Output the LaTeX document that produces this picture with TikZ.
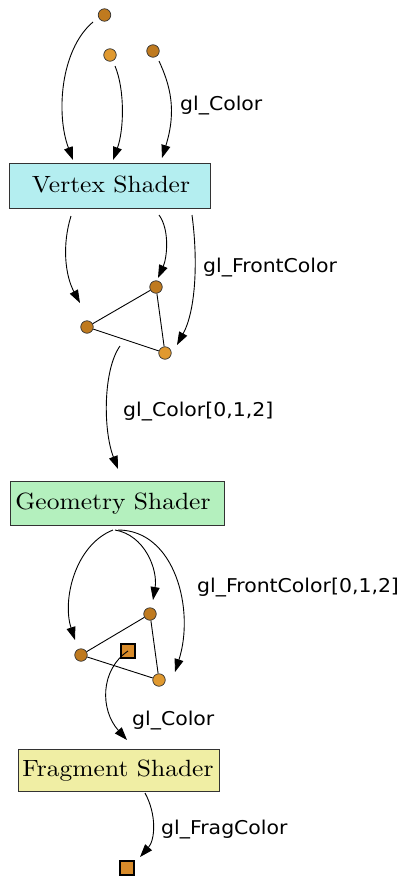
\documentclass[tikz,border=0pt]{standalone}
\usepackage{fontspec}
\usepackage{graphicx}
\newfontfamily\labelfont{DejaVu Sans}
\usetikzlibrary{arrows.meta}
\definecolor{vdark}{HTML}{BF7A1F}
\definecolor{vlight}{HTML}{E0992F}
\definecolor{fragsq}{HTML}{D88B2A}
\definecolor{vsfill}{HTML}{B4EEF0}
\definecolor{gsfill}{HTML}{B4F0BE}
\definecolor{fsfill}{HTML}{F0EEA4}
\definecolor{boxline}{HTML}{333333}
\newcommand{\shadertext}[1]{\scalebox{2.55}[2.35]{\fontsize{10}{12}\selectfont #1}}
\newcommand{\lbltext}[1]{\scalebox{1.075}[1]{\labelfont\fontsize{19}{22}\selectfont #1}}
\tikzset{
  vtx/.style={circle,draw=black!80,line width=0.7pt,minimum size=12.5pt,inner sep=0pt},
  dk/.style={vtx,fill=vdark},
  lt/.style={vtx,fill=vlight},
  frag/.style={rectangle,draw=black,line width=2pt,fill=fragsq,minimum size=14pt,inner sep=0pt},
  shader/.style={rectangle,draw=boxline,line width=0.8pt,inner sep=0pt},
  lbl/.style={anchor=base west,inner sep=0pt},
  flow/.style={-{Triangle[length=13pt,width=9pt]},line width=0.9pt},
  edge/.style={line width=0.9pt}
}
\begin{document}
\begin{tikzpicture}[x=1pt,y=-1pt]
\useasboundingbox (0,0) rectangle (399,878);
% top vertices
\node[dk] (c1) at (104.5,15) {};
\node[lt] (c2) at (110,55) {};
\node[dk] (c3) at (153,51) {};
% shader boxes
\node[shader,fill=vsfill,minimum width=201pt,minimum height=45pt] (vs) at (109.5,185.5) {};
\node[shader,fill=gsfill,minimum width=214pt,minimum height=44pt] (gs) at (117,503) {};
\node[shader,fill=fsfill,minimum width=201pt,minimum height=42pt] (fs) at (118.5,770) {};
\node[anchor=base,inner sep=0pt] (vst) at (111,192.7) {\shadertext{Vertex Shader}};
\node[anchor=base,inner sep=0pt] (gst) at (113,509) {\shadertext{Geometry Shader}};
\node[anchor=base,inner sep=0pt] (fst) at (118,776.7) {\shadertext{Fragment Shader}};
% triangle 1
\node[dk] (t1a) at (156,287) {};
\node[dk] (t1b) at (87,327) {};
\node[lt] (t1c) at (165,353) {};
\draw[edge] (t1b) -- (t1a) -- (t1c) -- (t1b);
% triangle 2
\node[dk] (t2a) at (150,614) {};
\node[dk] (t2b) at (81,655) {};
\node[lt] (t2c) at (159,680) {};
\draw[edge] (t2b) -- (t2a) -- (t2c) -- (t2b);
\node[frag] (s1) at (128,651) {};
\node[frag] (s2) at (127,868) {};
% coordinates
\coordinate (e1s) at (93,22);   \coordinate (e1e) at (73,160);
\coordinate (e2s) at (115,66);  \coordinate (e2e) at (113,160);
\coordinate (e3s) at (159,61);  \coordinate (e3e) at (162,158);
\coordinate (a1s) at (71,216);  \coordinate (a1e) at (80,303);
\coordinate (a2s) at (159,215); \coordinate (a2e) at (158,278);
\coordinate (a3s) at (192,215); \coordinate (a3e) at (177,345);
\coordinate (a4s) at (120,346); \coordinate (a4e) at (118,469);
\coordinate (gs0) at (113,530); \coordinate (gs1) at (115,530); \coordinate (gs2) at (118,530);
\coordinate (g1e) at (75,640);
\coordinate (g2e) at (153,600);
\coordinate (g3e) at (175,672);
\coordinate (g4e) at (127,740);
\coordinate (f1s) at (145,793); \coordinate (f1e) at (140,857);
% connectors
\draw[flow] (e1s) .. controls (60,50) and (56,115) .. (e1e);
\draw[flow] (e2s) .. controls (125,90) and (124,130) .. (e2e);
\draw[flow] (e3s) .. controls (170,85) and (177,110) .. (e3e);
\draw[flow] (a1s) .. controls (62,245) and (65,275) .. (a1e);
\draw[flow] (a2s) .. controls (170,230) and (167,258) .. (a2e);
\draw[flow] (a3s) .. controls (198,260) and (196,310) .. (a3e);
\draw[flow] (a4s) .. controls (103,370) and (103,430) .. (a4e);
\draw[flow] (gs0) .. controls (75,545) and (62,600) .. (g1e);
\draw[flow] (gs1) .. controls (145,535) and (158,570) .. (g2e);
\draw[flow] (gs2) .. controls (175,530) and (195,610) .. (g3e);
\draw[flow] (s1.center) .. controls (100,670) and (100,710) .. (g4e);
\draw[flow] (f1s) .. controls (157,815) and (155,840) .. (f1e);
% labels
\node[lbl] (l1) at (180,110) {\lbltext{gl\_Color}};
\node[lbl] (l2) at (203,272.7) {\lbltext{gl\_FrontColor}};
\node[lbl] (l3) at (123,416) {\lbltext{gl\_Color[0,1,2]}};
\node[lbl] (l4) at (197,592) {\lbltext{gl\_FrontColor[0,1,2]}};
\node[lbl] (l5) at (132,725) {\lbltext{gl\_Color}};
\node[lbl] (l6) at (161,834) {\lbltext{gl\_FragColor}};
\end{tikzpicture}
\end{document}
